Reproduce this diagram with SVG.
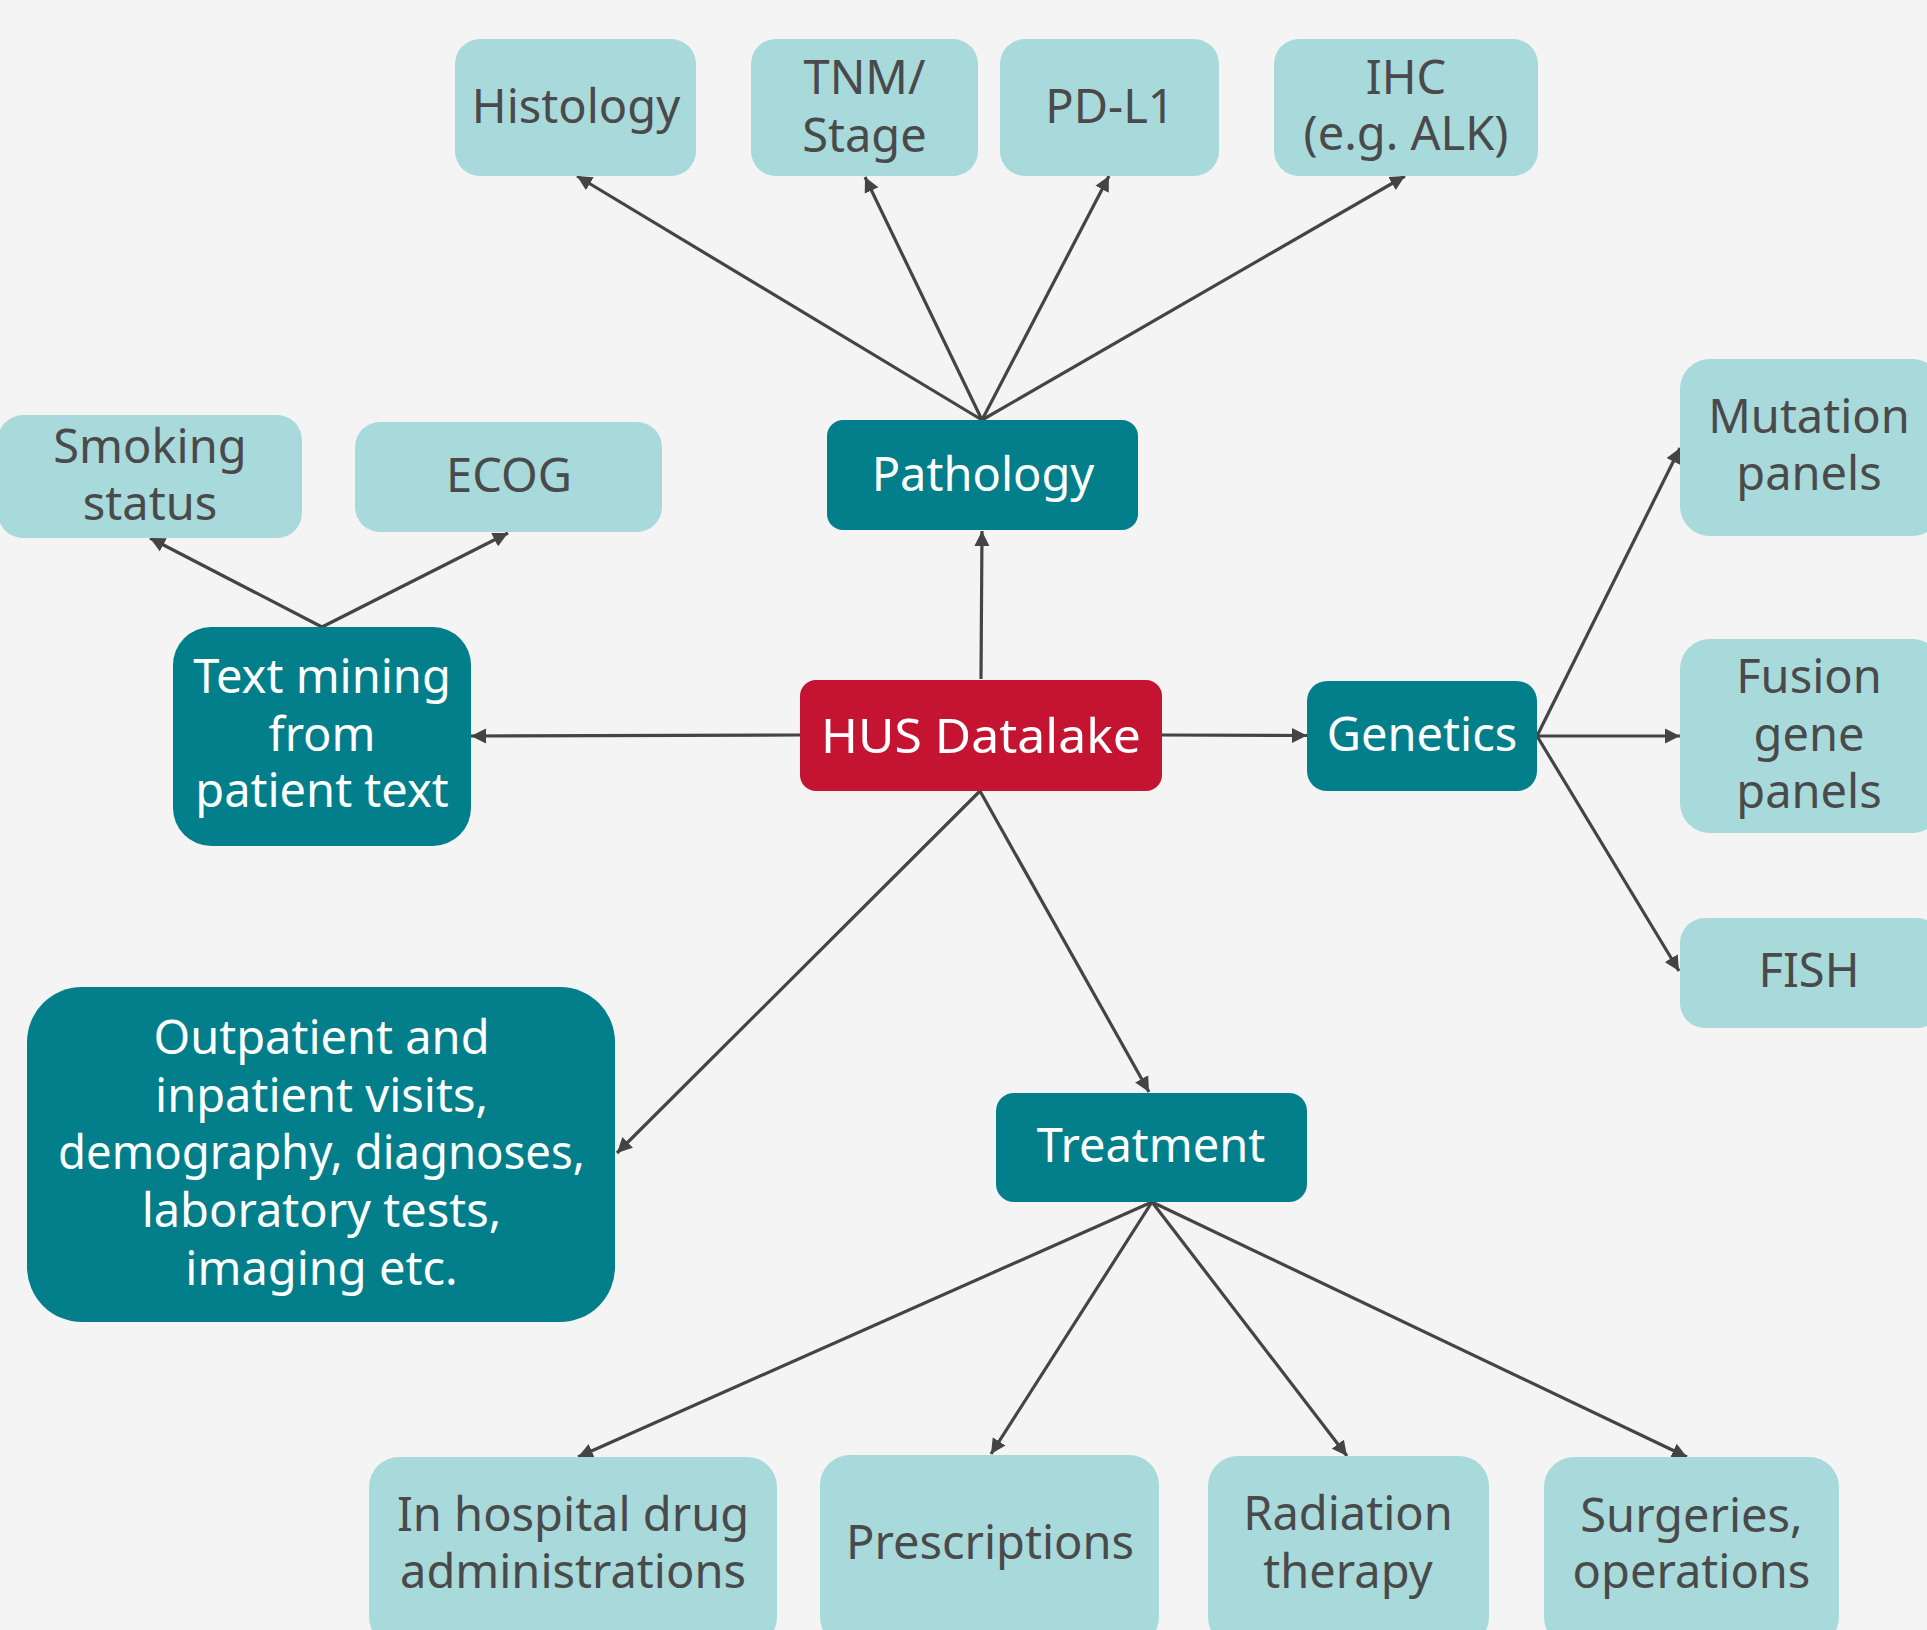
<svg xmlns="http://www.w3.org/2000/svg" width="1927" height="1630" viewBox="0 0 1927 1630">
<defs>
<style>
.bg{fill:#F4F4F4}
.light{fill:#A8D9DB}
.dark{fill:#037F8C}
.red{fill:#C41432}
text{font-family:"Noto Sans","Open Sans","Liberation Sans",sans-serif;font-size:47px;text-anchor:middle}
.tl{fill:#4A4A4A}
.tw{fill:#FFFFFF}
.conn line{stroke:#444444;stroke-width:3.2;fill:none;marker-end:url(#arr)}
</style>
<marker id="arr" markerUnits="userSpaceOnUse" markerWidth="16" markerHeight="16" viewBox="0 0 16 16" refX="15" refY="8" orient="auto">
<path d="M0,0.5 L15,8 L0,15.5 z" fill="#444444"/>
</marker>
</defs>
<rect class="bg" x="0" y="0" width="1927" height="1630"/>

<g id="connectors" class="conn">
<line x1="981" y1="679" x2="982" y2="531"/>
<line x1="982" y1="420" x2="577" y2="176"/>
<line x1="982" y1="420" x2="865" y2="177"/>
<line x1="982" y1="420" x2="1109" y2="176"/>
<line x1="982" y1="420" x2="1405" y2="176"/>
<line x1="322" y1="627" x2="150" y2="538"/>
<line x1="322" y1="627" x2="508" y2="533"/>
<line x1="800" y1="735" x2="471" y2="736"/>
<line x1="1162" y1="735" x2="1307" y2="735.5"/>
<line x1="1537" y1="736" x2="1680" y2="448"/>
<line x1="1537" y1="736" x2="1680" y2="736"/>
<line x1="1537" y1="736" x2="1679" y2="971"/>
<line x1="980" y1="791" x2="617" y2="1153"/>
<line x1="980" y1="791" x2="1149" y2="1092"/>
<line x1="1152" y1="1202" x2="578" y2="1457"/>
<line x1="1152" y1="1202" x2="991" y2="1454"/>
<line x1="1152" y1="1202" x2="1347" y2="1456"/>
<line x1="1152" y1="1202" x2="1687" y2="1457"/>
</g>

<g id="histology"><rect class="light" x="455" y="39" width="241" height="137" rx="25"/><text class="tl" x="576" y="123">Histology</text></g>
<g id="tnm"><rect class="light" x="751" y="39" width="227" height="137" rx="25"/><text class="tl" x="864.5" y="94">TNM/<tspan x="864.5" dy="58">Stage</tspan></text></g>
<g id="pdl1"><rect class="light" x="1000" y="39" width="219" height="137" rx="25"/><text class="tl" x="1110" y="122.5">PD-L1</text></g>
<g id="ihc"><rect class="light" x="1274" y="39" width="264" height="137" rx="25"/><text class="tl" x="1406" y="93.6">IHC<tspan x="1406" dy="56.4">(e.g. ALK)</tspan></text></g>

<g id="smoking"><rect class="light" x="-2" y="415" width="304" height="123" rx="25"/><text class="tl" x="150" y="462.5">Smoking<tspan x="150" dy="57.1">status</tspan></text></g>
<g id="ecog"><rect class="light" x="355" y="422" width="307" height="110" rx="25"/><text class="tl" x="509" y="492">ECOG</text></g>

<g id="pathology"><rect class="dark" x="827" y="420" width="311" height="110" rx="16"/><text class="tw" x="983" y="490.5">Pathology</text></g>
<g id="hus"><rect class="red" x="800" y="680" width="362" height="111" rx="16"/><text class="tw" x="981" y="753" textLength="320" lengthAdjust="spacingAndGlyphs">HUS Datalake</text></g>
<g id="genetics"><rect class="dark" x="1307" y="681" width="230" height="110" rx="20"/><text class="tw" x="1422" y="750.5">Genetics</text></g>
<g id="textmining"><rect class="dark" x="173" y="627" width="298" height="219" rx="38"/><text class="tw" x="322" y="693.3">Text mining<tspan x="322" dy="57.4">from</tspan><tspan x="322" dy="56">patient text</tspan></text></g>
<g id="outpatient"><rect class="dark" x="27" y="987" width="588" height="335" rx="55"/>
<text class="tw" x="321.5" y="1054">Outpatient and<tspan x="321.5" dy="57.7">inpatient visits,</tspan><tspan x="321.5" dy="57.3" textLength="527" lengthAdjust="spacingAndGlyphs">demography, diagnoses,</tspan><tspan x="321.5" dy="58">laboratory tests,</tspan><tspan x="321.5" dy="58">imaging etc.</tspan></text></g>

<g id="mutation"><rect class="light" x="1680" y="359" width="262" height="177" rx="30"/><text class="tl" x="1809" y="433">Mutation<tspan x="1809" dy="57">panels</tspan></text></g>
<g id="fusion"><rect class="light" x="1680" y="639" width="262" height="194" rx="30"/><text class="tl" x="1809" y="693">Fusion<tspan x="1809" dy="58">gene</tspan><tspan x="1809" dy="56.5">panels</tspan></text></g>
<g id="fish"><rect class="light" x="1680" y="918" width="262" height="110" rx="25"/><text class="tl" x="1809" y="987">FISH</text></g>

<g id="treatment"><rect class="dark" x="996" y="1093" width="311" height="109" rx="18"/><text class="tw" x="1151" y="1162">Treatment</text></g>
<g id="inhospital"><rect class="light" x="369" y="1457" width="408" height="190" rx="30"/><text class="tl" x="573" y="1531">In hospital drug<tspan x="573" dy="57">administrations</tspan></text></g>
<g id="prescriptions"><rect class="light" x="820" y="1455" width="339" height="192" rx="30"/><text class="tl" x="990" y="1559">Prescriptions</text></g>
<g id="radiation"><rect class="light" x="1208" y="1456" width="281" height="191" rx="30"/><text class="tl" x="1348" y="1530">Radiation<tspan x="1348" dy="58">therapy</tspan></text></g>
<g id="surgeries"><rect class="light" x="1544" y="1457" width="295" height="190" rx="30"/><text class="tl" x="1691.5" y="1531.7">Surgeries,<tspan x="1691.5" dy="56.6">operations</tspan></text></g>
</svg>
